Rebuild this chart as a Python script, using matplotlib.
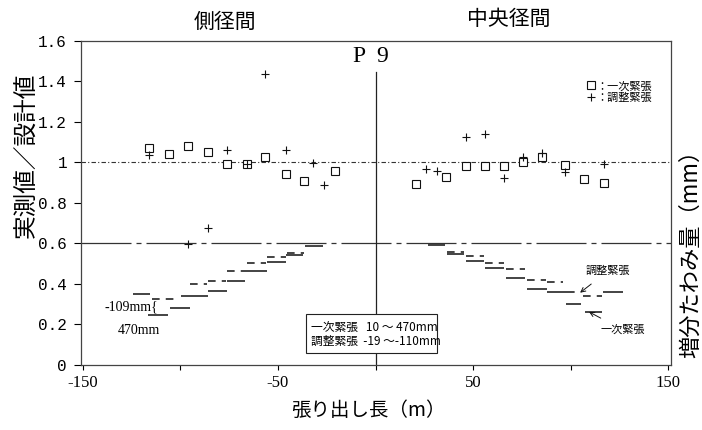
import matplotlib
matplotlib.use("Agg")
import matplotlib.pyplot as plt
from matplotlib.patches import Rectangle

plt.rcParams['font.family'] = ['Noto Sans CJK JP', 'DejaVu Sans']

# 実測値／設計値 : 一次緊張 (squares) and 調整緊張 (plus)
sq_x = [-116, -106, -96, -86, -76, -66, -56.5, -46, -36.5, -21,
        21, 36, 46.5, 56, 66, 75.5, 85.5, 97, 107, 117]
sq_y = [1.072, 1.04, 1.081, 1.052, 0.994, 0.994, 1.027, 0.945, 0.909, 0.958,
        0.894, 0.93, 0.984, 0.984, 0.984, 1.001, 1.029, 0.988, 0.917, 0.897]
pl_x = [-116, -96, -86, -76, -66, -56.5, -46, -32, -26.5,
        26, 31.5, 46.5, 56, 66, 75.5, 85.5, 97, 117]
pl_y = [1.037, 0.597, 0.677, 1.062, 0.994, 1.435, 1.062, 0.996, 0.887,
        0.968, 0.958, 1.127, 1.141, 0.922, 1.029, 1.045, 0.951, 0.991]

# 増分たわみ量 : steps per block (一次緊張 solid, 調整緊張 dashed)
solid_x0 = [-124.4, -116.5, -105.4, -99.6, -85.7, -76.2, -66.2, -55.5, -45.9, -36.2,
            27.1, 36.5, 46.3, 56.2, 66.8, 77.5, 87.8, 97.5, 107.4, 116.8]
solid_x1 = [-115.6, -106.4, -95.1, -85.9, -76.3, -66.8, -55.8, -46.0, -37.0, -26.8,
            35.6, 45.4, 55.6, 66.0, 76.7, 87.8, 98.0, 105.5, 116.2, 127.0]
solid_y = [0.349, 0.247, 0.283, 0.342, 0.367, 0.416, 0.466, 0.507, 0.543, 0.590,
           0.592, 0.547, 0.515, 0.477, 0.428, 0.375, 0.362, 0.300, 0.263, 0.362]
dash_x0 = [-114.8, -95.0, -86.0, -76.0, -65.7, -55.5, -45.5,
           36.5, 46.4, 56.2, 66.9, 77.5, 87.8, 98.0, 106.5]
dash_x1 = [-102.0, -86.5, -76.5, -66.5, -56.3, -46.0, -36.5,
           45.5, 55.6, 66.0, 76.7, 87.3, 96.0, 105.0, 116.0]
dash_y = [0.328, 0.398, 0.415, 0.466, 0.502, 0.532, 0.555,
          0.560, 0.540, 0.505, 0.472, 0.420, 0.408, 0.360, 0.340]

yticks = [0, 0.2, 0.4, 0.6, 0.8, 1.0, 1.2, 1.4, 1.6]
ytick_labels = ['0', '0.2', '0.4', '0.6', '0.8', '1', '1.2', '1.4', '1.6']
xticks = [-150, -50, 50, 150]
xminor = [-100, 0, 100]

fig = plt.figure(figsize=(7.02, 4.30), dpi=100)
ax = fig.add_axes([0.1154, 0.1512, 0.8404, 0.7535])

# reference lines
ax.axhline(1.0, color='#333333', lw=0.8, linestyle=(0, (4, 2, 1, 2)))
ax.axhline(0.6, color='#333333', lw=0.9, linestyle=(0, (40, 4, 4, 4)))
ax.axvline(0, ymax=0.905, color='#222222', lw=0.9)

ax.hlines(solid_y, solid_x0, solid_x1, colors='#111111', lw=1.1)
ax.hlines(dash_y, dash_x0, dash_x1, colors='#111111', lw=1.1, linestyles=(0, (5, 4)))

ax.plot(sq_x, sq_y, linestyle='none', marker='s', ms=5.5, mfc='white',
        mec='#111111', mew=0.8, label='：一次緊張', zorder=4)
ax.plot(pl_x, pl_y, linestyle='none', marker='+', ms=6, mec='#111111',
        mew=0.8, label='：調整緊張', zorder=5)

ax.set_xlim(-151, 151.5)
ax.set_ylim(0, 1.6)
ax.set_yticks(yticks)
ax.set_yticklabels(ytick_labels, fontfamily='Liberation Mono', fontsize=11.5)
ax.set_xticks(xticks)
ax.set_xticklabels([str(v) for v in xticks], fontfamily='Liberation Serif', fontsize=12)
ax.set_xticks(xminor, minor=True)
ax.tick_params(axis='y', direction='out', length=5, width=0.8, pad=5)
ax.tick_params(axis='x', which='both', direction='out', length=3.5, width=0.8, pad=4)
for s in ax.spines.values():
    s.set_color('#444444')
    s.set_linewidth(0.9)

ax.text(-2.3, 1.521, 'P  9', fontfamily='Liberation Serif', fontsize=17,
        ha='center', va='center')

ax.legend(loc='upper right', bbox_to_anchor=(0.975, 0.89), frameon=False,
          fontsize=8, handlelength=0.8, handletextpad=0.1, labelspacing=0.15,
          borderaxespad=0)

# step annotations
ax.text(-138.7, 0.286, '-109mm{', fontfamily='Liberation Serif', fontsize=10,
        ha='left', va='center')
ax.text(-132, 0.168, '470mm', fontfamily='Liberation Serif', fontsize=10,
        ha='left', va='center')
ax.annotate('調整緊張', xy=(104.9, 0.357), xytext=(119.2, 0.464), fontsize=8,
            ha='center', va='center',
            arrowprops=dict(arrowstyle='->', color='#111111', lw=0.7,
                            shrinkA=6, shrinkB=0))
ax.annotate('一次緊張', xy=(109.5, 0.262), xytext=(126.9, 0.173), fontsize=8,
            ha='center', va='center',
            arrowprops=dict(arrowstyle='->', color='#111111', lw=0.7,
                            shrinkA=6, shrinkB=0))

# range box
ax.add_patch(Rectangle((-35.6, 0.059), 67.1, 0.193, facecolor='white',
                       edgecolor='#222222', lw=0.8, zorder=6))
ax.text(-33.1, 0.178, '一次緊張   10 ～ 470mm', fontsize=8.5, ha='left',
        va='center', zorder=7)
ax.text(-33.1, 0.114, '調整緊張  -19 ～-110mm', fontsize=8.5, ha='left',
        va='center', zorder=7)

fig.text(225 / 702, 1 - 22 / 430, '側径間', fontsize=15, ha='center', va='center')
fig.text(509 / 702, 1 - 19 / 430, '中央径間', fontsize=15, ha='center', va='center')
fig.text(368 / 702, 1 - 410 / 430, '張り出し長（m）', fontsize=14, ha='center', va='center')
fig.text(27 / 702, 1 - 155 / 430, '実測値／設計値', fontsize=17, rotation=90,
         ha='center', va='center')
fig.text(691 / 702, 1 - 248 / 430, '増分たわみ量（mm）', fontsize=16, rotation=90,
         ha='center', va='center')

fig.savefig('out.png', dpi=100)
